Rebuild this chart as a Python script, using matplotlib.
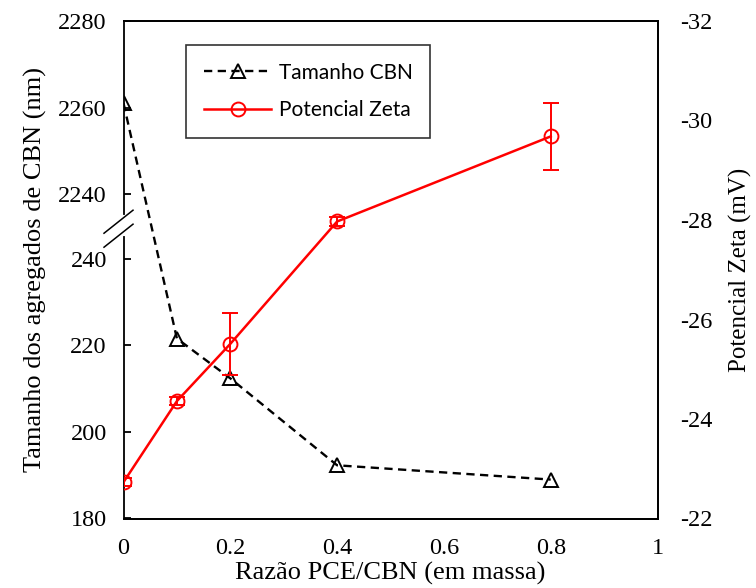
import numpy as np
import matplotlib
matplotlib.use("Agg")
import matplotlib.pyplot as plt

# Data
razao = [0, 0.1, 0.2, 0.4, 0.8]
tamanho = [2261, 221.6, 212.4, 192.3, 189.0]
zeta = [-22.73, -24.36, -25.51, -27.97, -29.68]
zeta_err = [0.08, 0.08, 0.63, 0.1, 0.67]
left_ticks = [180, 200, 220, 240, 2240, 2260, 2280]

# broken y axis: 240..2240 squeezed into a small gap
gap = 15.0
xp = [-1e5, 240, 2240, 1e5]
fp = [-1e5, 240, 240 + gap, 1e5 - 2000 + gap]

def fwd(v):
    return np.interp(v, xp, fp)

def inv(u):
    return np.interp(u, fp, xp)

plt.rcParams['font.family'] = 'Liberation Serif'
plt.rcParams['axes.unicode_minus'] = False

fig = plt.figure(figsize=(7.56, 5.88), dpi=100)
ax = fig.add_axes([123.5/756, 1 - 518.5/588, 534/756, 497.5/588])
ax.set_yscale('function', functions=(fwd, inv))
ax.set_ylim(180, 2280)
ax.set_xlim(0, 1)
ax.set_yticks(left_ticks)
ax.set_yticklabels([str(t) for t in left_ticks])
ax.set_xticks([0, 0.2, 0.4, 0.6, 0.8, 1])
ax.set_xticklabels(['0', '0.2', '0.4', '0.6', '0.8', '1'])
ax.tick_params(axis='y', direction='in', length=5, width=1.3, labelsize=17.5, pad=12)
ax.tick_params(axis='x', length=0, labelsize=17.5, pad=14)
for s in ax.spines.values():
    s.set_linewidth(1.3)

l1, = ax.plot(razao, tamanho, color='black', ls=(0, (3.5, 2.3)), lw=1.7,
              marker='^', ms=10, mfc='none', mec='black', mew=1.4,
              label='Tamanho CBN')
ax.set_xlabel('Razão PCE/CBN (em massa)', fontsize=19, labelpad=2)
ax.set_ylabel('Tamanho dos agregados de CBN (nm)', fontsize=19, labelpad=8)

ax2 = ax.twinx()
ax2.set_ylim(-22, -32)
ax2.set_yticks([-22, -24, -26, -28, -30, -32])
ax2.tick_params(axis='y', length=0, labelsize=17.5, pad=16)
ax2.spines['left'].set_visible(False)
for s in ax2.spines.values():
    s.set_linewidth(1.3)
l2 = ax2.errorbar(razao, zeta, yerr=zeta_err, color='red', lw=1.8,
                  marker='o', ms=10, mfc='none', mec='red', mew=1.4,
                  ecolor='red', elinewidth=1.4, capsize=6, capthick=1.4,
                  label='Potencial Zeta')
ax2.set_ylabel('Potencial Zeta (mV)', fontsize=18, labelpad=12)

# break marks on the left spine
ax2.plot([0, 0], [0.5726, 0.6055], transform=ax2.transAxes, color='white',
         lw=3, clip_on=False, zorder=10)
for y0 in (0.5734, 0.5453):
    ax2.plot([-0.0365, 0.0178], [y0, y0 + 0.0463], transform=ax2.transAxes,
             color='black', lw=1.1, clip_on=False, zorder=11)

leg = ax2.legend([l1, l2[0]], ['Tamanho CBN', 'Potencial Zeta'],
                 loc='upper left', bbox_to_anchor=(62.5/534, 1 - 24/497.5),
                 prop={'family': 'Lato', 'size': 15}, frameon=True,
                 fancybox=False, edgecolor='black', handlelength=3.25,
                 borderpad=0.85, labelspacing=0.85, handletextpad=0.35,
                 borderaxespad=0)
leg.get_frame().set_linewidth(1.2)

fig.savefig('out.png', dpi=100)
